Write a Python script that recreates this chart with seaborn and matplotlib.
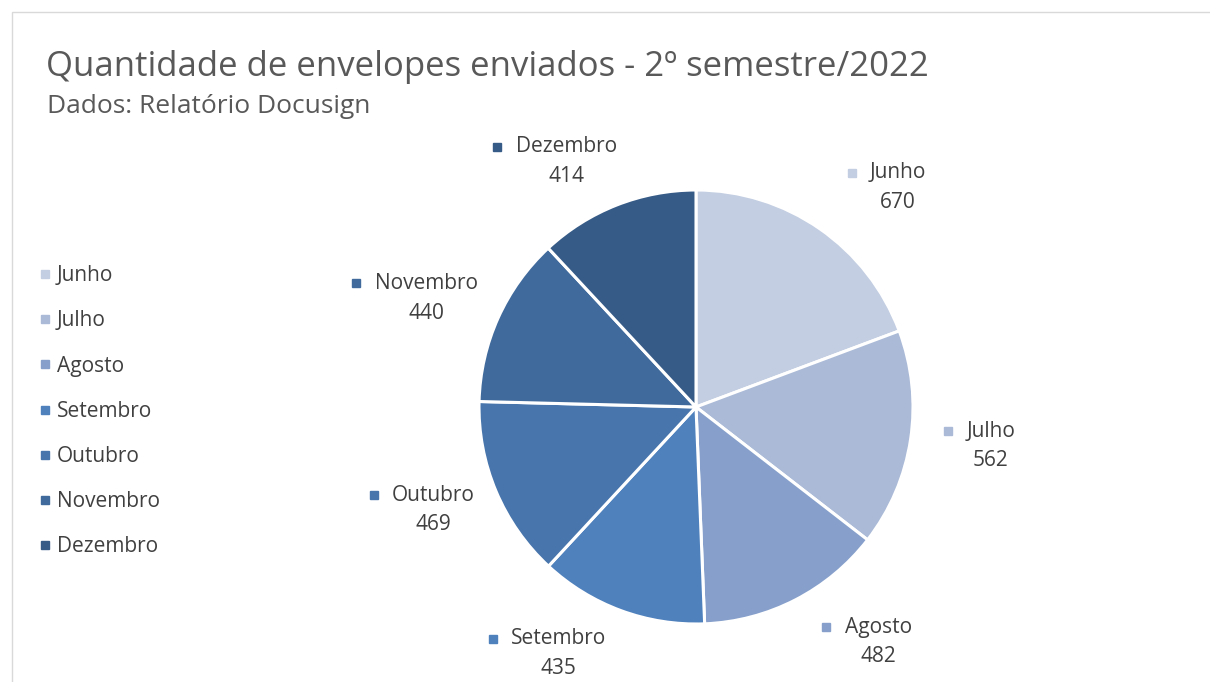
import matplotlib
matplotlib.use("Agg")
import matplotlib.pyplot as plt
import seaborn as sns
import numpy as np
from matplotlib.patches import Rectangle
from matplotlib.lines import Line2D

sns.set_theme(style="white")
plt.rcParams['font.family'] = ['Open Sans', 'DejaVu Sans']

months = ["Junho", "Julho", "Agosto", "Setembro", "Outubro", "Novembro", "Dezembro"]
values = [670, 562, 482, 435, 469, 440, 414]
colors = ["#C3CEE2", "#AABAD7", "#86A0CB", "#4F81BD", "#4775AC", "#406A9C", "#365B87"]

title = "Quantidade de envelopes enviados - 2º semestre/2022"
subtitle = "Dados: Relatório Docusign"

# label placement (layout only): angular nudge (deg) and radial distance
label_nudge = [-7.9, 1.1, 10.5, -8.8, -1.4, 2.3, 6.4]
label_dist = [1.376, 1.371, 1.37, 1.30, 1.30, 1.34, 1.28]

W, H = 1210, 682
fig = plt.figure(figsize=(W / 100, H / 100), dpi=100)
fig.patch.set_facecolor("white")

# chart frame
fig.patches.append(Rectangle((12 / W, -0.05), 1.2, 1 - 12 / H + 0.05,
                             transform=fig.transFigure, fill=False,
                             edgecolor="#D9D9D9", linewidth=1.0))

fig.text(46 / W, 1 - 76 / H, title, fontsize=25, color="#595959", ha="left", va="baseline")
fig.text(47 / W, 1 - 113 / H, subtitle, fontsize=19, color="#595959", ha="left", va="baseline")

cx, cy, r = 696, 407, 217
ax = fig.add_axes([(cx - r) / W, (H - cy - r) / H, 2 * r / W, 2 * r / H])
wedges, _ = ax.pie(values, colors=colors, startangle=90, counterclock=False,
                   wedgeprops=dict(edgecolor="white", linewidth=2.2))
ax.set_xlim(-1, 1)
ax.set_ylim(-1, 1)
ax.set_aspect("equal")
ax.axis("off")

fig.canvas.draw()
renderer = fig.canvas.get_renderer()
dy = 0.068
for w, m, v, c, nd, ld in zip(wedges, months, values, colors, label_nudge, label_dist):
    ang = np.deg2rad((w.theta1 + w.theta2) / 2 + nd)
    x, y = ld * np.cos(ang), ld * np.sin(ang)
    t = ax.text(x, y + dy, m, fontsize=15, color="#404040", ha="center", va="center")
    ax.text(x, y - dy, str(v), fontsize=15, color="#404040", ha="center", va="center")
    bb = t.get_window_extent(renderer).transformed(ax.transData.inverted())
    ax.plot([bb.x0 - 0.085], [y + dy], marker="s", markersize=6, color=c,
            clip_on=False, linestyle="none")

handles = [Line2D([0], [0], marker="s", color="none", markerfacecolor=c,
                  markeredgecolor=c, markersize=6, linestyle="none") for c in colors]
leg = fig.legend(handles, months, loc="upper left", bbox_to_anchor=(30 / W, 1 - 257 / H),
                 frameon=False, fontsize=15, labelspacing=1.16, handlelength=0.6,
                 handletextpad=0.3, labelcolor="#404040", borderaxespad=0)

fig.savefig("out.png", dpi=100, facecolor="white")
